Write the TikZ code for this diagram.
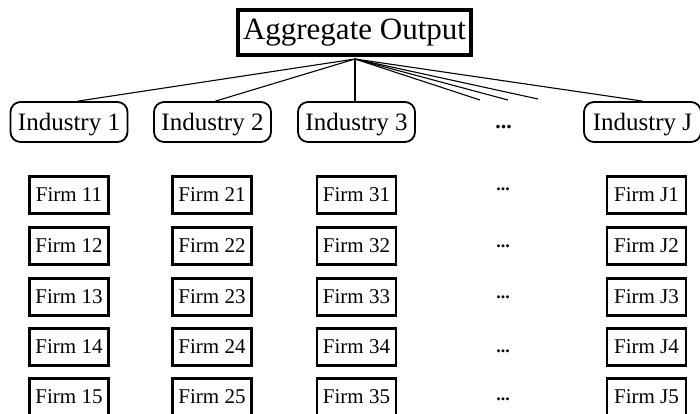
\documentclass[tikz,border=0pt]{standalone}
\usepackage{fontspec}
\setmainfont{Liberation Serif}
\begin{document}
\begin{tikzpicture}[x=1pt,y=-1pt,
  aggbox/.style={draw,line width=3.5pt,inner sep=0pt,minimum width=233pt,minimum height=45pt,font=\fontsize{31}{34}\selectfont},
  indbox/.style={draw,line width=1.8pt,rounded corners=10pt,inner sep=0pt,text depth=0pt,minimum width=117pt,minimum height=40pt,font=\fontsize{25}{28}\selectfont},
  firmbox/.style={draw,line width=2.4pt,inner sep=0pt,minimum width=79pt,minimum height=37pt,font=\fontsize{21}{24}\selectfont},
  dotsnode/.style={inner sep=0pt,anchor=base,font=\fontsize{18}{20}\selectfont\bfseries},
  link/.style={line width=1.1pt}]
\useasboundingbox (0,0) rectangle (700,413);
\node[aggbox] (agg) at (354.5,32.5) {Aggregate Output};
\node[indbox] (ind1) at (69,122) {Industry 1};
\node[indbox] (ind2) at (212.5,122) {Industry 2};
\node[indbox] (ind3) at (356.5,122) {Industry 3};
\node[dotsnode,font=\fontsize{22}{24}\selectfont\bfseries] (indd) at (503.5,128) {...};
\node[indbox] (indJ) at (642.5,122) {Industry J};
\coordinate (top) at (355,59);
\coordinate (e1) at (480,100);
\coordinate (e2) at (508,100);
\coordinate (e3) at (538,99);
\draw[link] (top) -- ([xshift=9pt]ind1.north);
\draw[link] (top) -- ([xshift=3pt]ind2.north);
\draw[link] (top) -- (ind3.north -| top);
\draw[link] (top) -- (e1);
\draw[link] (top) -- (e2);
\draw[link] (top) -- (e3);
\draw[link] (top) -- (indJ.north);
\foreach \r/\y/\dy in {1/195/190,2/246/247,3/297/298,4/347/352,5/397/400}{
  \node[firmbox] (f1\r) at (69,\y) {Firm 1\r};
  \node[firmbox] (f2\r) at (212,\y) {Firm 2\r};
  \node[firmbox] (f3\r) at (356.5,\y) {Firm 3\r};
  \node[dotsnode] (fd\r) at (503,\dy) {...};
  \node[firmbox] (fJ\r) at (646.5,\y) {Firm J\r};
}
\end{tikzpicture}
\end{document}
